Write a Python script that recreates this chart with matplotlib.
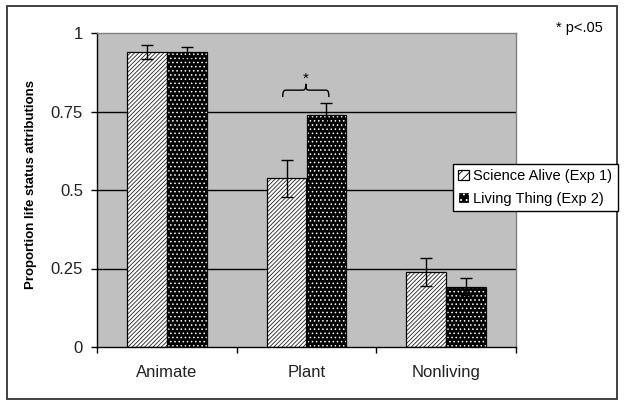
import matplotlib
matplotlib.use("Agg")
import matplotlib.pyplot as plt
import numpy as np
from matplotlib.patches import Rectangle, Patch, PathPatch
from matplotlib.path import Path

plt.rcParams['font.family'] = ['Liberation Sans', 'DejaVu Sans']
plt.rcParams['hatch.linewidth'] = 0.6

categories = ['Animate', 'Plant', 'Nonliving']
series_names = ['Science Alive (Exp 1)', 'Living Thing (Exp 2)']
science = [0.94, 0.537, 0.238]
science_err = [0.023, 0.058, 0.044]
living = [0.94, 0.738, 0.192]
living_err = [0.017, 0.038, 0.027]
yticks = [0, 0.25, 0.5, 0.75, 1]
ytick_labels = ['0', '0.25', '0.5', '0.75', '1']
sig_note = '* p<.05'
ylabel = 'Proportion life status attributions'

fig = plt.figure(figsize=(6.29, 4.07), dpi=100)
fig.patch.set_facecolor('white')
# outer chart frame
fig.patches.append(Rectangle((7/629, 1-399/407), (617-7)/629, (399-6)/407,
                             transform=fig.transFigure, fill=False,
                             edgecolor='#333333', linewidth=1.3))

ax = fig.add_axes([97/629, 1-347/407, (516-97)/629, (347-33)/407])
ax.set_facecolor('#c0c0c0')

x = np.arange(len(categories))
w = 1/3.5

# gridlines (not at 0 and 1)
ax.hlines(yticks[1:-1], -0.5, len(categories)-0.5, colors='black', linewidth=1.0, zorder=1)

hatch_sci = '////////'
hatch_liv = '....'

# Science Alive: white with diagonal hatch
ax.bar(x - w/2, science, w, color='white', edgecolor='#222222', hatch=hatch_sci,
       linewidth=0, zorder=2)
ax.bar(x - w/2, science, w, fill=False, edgecolor='black', linewidth=0.9, zorder=2.1)
# Living Thing: black with white dots
ax.bar(x + w/2, living, w, color='black', edgecolor='white', hatch=hatch_liv,
       linewidth=0, zorder=2)
ax.bar(x + w/2, living, w, fill=False, edgecolor='black', linewidth=0.9, zorder=2.1)

ax.errorbar(x - w/2, science, yerr=science_err, fmt='none', ecolor='black',
            elinewidth=1, capsize=4, capthick=1, zorder=3)
ax.errorbar(x + w/2, living, yerr=living_err, fmt='none', ecolor='black',
            elinewidth=1, capsize=4, capthick=1, zorder=3)

ax.set_xlim(-0.5, len(categories)-0.5)
ax.set_ylim(0, 1)

# spines
for s in ['top', 'right']:
    ax.spines[s].set_color('#808080')
    ax.spines[s].set_linewidth(1.0)
for s in ['left', 'bottom']:
    ax.spines[s].set_color('black')
    ax.spines[s].set_linewidth(1.0)

ax.set_yticks(yticks)
ax.set_yticklabels(ytick_labels, fontsize=12, color='#222222')
ax.tick_params(axis='y', direction='out', length=4, width=1, pad=6)

ax.set_xticks(np.arange(len(categories)+1) - 0.5)
ax.set_xticklabels([''] * (len(categories)+1))
ax.tick_params(axis='x', which='major', direction='out', length=4, width=1)
ax.set_xticks(x, minor=True)
ax.set_xticklabels(categories, minor=True, fontsize=12, color='#222222')
ax.tick_params(axis='x', which='minor', length=0, pad=13)

ax.set_ylabel(ylabel, fontsize=9.5, fontweight='bold')
ax.yaxis.set_label_coords(-0.143, 0.516)

# significance brace over Plant
ci = 1
x0, x1 = ci - 0.17, ci + 0.16
xc = (x0 + x1) / 2
ye, ym, yt = 0.796, 0.818, 0.838
d = 0.03
verts = [(x0, ye), (x0, ym), (x0 + d*0.3, ym), (x0 + d, ym),
         (xc - d, ym),
         (xc - d*0.3, ym), (xc, ym), (xc, yt),
         (xc, ym), (xc + d*0.3, ym), (xc + d, ym),
         (x1 - d, ym),
         (x1 - d*0.3, ym), (x1, ym), (x1, ye)]
codes = [Path.MOVETO, Path.CURVE4, Path.CURVE4, Path.CURVE4,
         Path.LINETO,
         Path.CURVE4, Path.CURVE4, Path.CURVE4,
         Path.CURVE4, Path.CURVE4, Path.CURVE4,
         Path.LINETO,
         Path.CURVE4, Path.CURVE4, Path.CURVE4]
ax.add_patch(PathPatch(Path(verts, codes), fill=False, edgecolor='black',
                       linewidth=1.0, zorder=4))
ax.text(xc, yt - 0.005, '*', ha='center', va='bottom', fontsize=11, zorder=4)

fig.text(556/629, 1-28/407, sig_note, fontsize=10.5, ha='left', va='center')

handles = [Patch(facecolor='white', edgecolor='black', hatch='////', linewidth=0.9),
           Patch(facecolor='black', edgecolor='white', hatch='...', linewidth=0.9)]
leg = fig.legend(handles, series_names, loc='upper left',
                 bbox_to_anchor=(453/629, 1-164/407), fontsize=10.5,
                 frameon=True, fancybox=False, framealpha=1, edgecolor='black',
                 handlelength=0.75, handleheight=0.75, handletextpad=0.3,
                 labelspacing=0.6, borderpad=0.35, borderaxespad=0)
leg.get_frame().set_linewidth(1.0)

fig.savefig('out.png', dpi=100)
